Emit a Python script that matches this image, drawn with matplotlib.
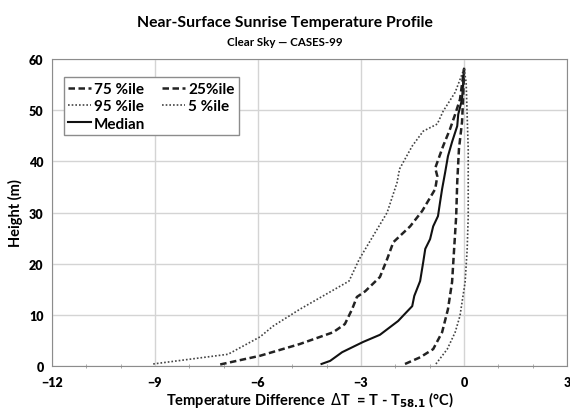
import numpy as np
import matplotlib.pyplot as plt
from matplotlib.ticker import MultipleLocator

plt.rcParams["font.family"] = ["Lato", "DejaVu Sans"]

# Profiles: temperature difference (degC) vs height (m)
h_p95 = [0.4, 2.3, 5.7, 7.8, 11.1, 16.6, 20.9, 25.4, 30.0, 35.9, 38.5, 43.0, 45.9, 47.3, 49.8, 53.5, 58.1]
t_p95 = [-9.05, -6.87, -5.94, -5.56, -4.78, -3.35, -3.05, -2.65, -2.24, -1.95, -1.88, -1.51, -1.19, -0.78, -0.61, -0.26, 0.0]

h_p75 = [0.3, 2.0, 4.3, 6.6, 8.2, 11.1, 13.5, 14.6, 17.4, 20.9, 24.2, 27.3, 30.3, 34.6, 37.1, 38.7, 40.2, 43.0, 46.3, 49.2, 52.1, 58.1]
t_p75 = [-7.1, -5.94, -4.78, -3.81, -3.47, -3.26, -3.12, -2.88, -2.45, -2.24, -2.06, -1.57, -1.22, -0.84, -0.78, -0.84, -0.76, -0.61, -0.41, -0.26, -0.12, 0.0]

h_med = [0.4, 1.0, 2.7, 4.7, 6.1, 8.8, 9.8, 11.7, 13.7, 16.6, 20.3, 22.9, 24.8, 27.3, 29.3, 32.0, 34.6, 37.9, 41.0, 43.8, 46.9, 49.2, 52.1, 58.1]
t_med = [-4.15, -3.9, -3.55, -2.94, -2.45, -1.92, -1.78, -1.51, -1.45, -1.28, -1.19, -1.13, -0.99, -0.9, -0.76, -0.7, -0.64, -0.55, -0.47, -0.35, -0.2, -0.17, -0.06, 0.0]

h_p25 = [0.4, 1.7, 3.3, 6.6, 11.1, 16.4, 22.9, 29.3, 35.9, 42.4, 47.7, 52.1, 58.1]
t_p25 = [-1.72, -1.28, -0.9, -0.64, -0.47, -0.35, -0.29, -0.23, -0.2, -0.15, -0.06, -0.03, 0.0]

h_p05 = [0.4, 3.3, 6.6, 9.8, 16.4, 22.9, 29.3, 35.9, 42.4, 48.8, 55.4, 58.1]
t_p05 = [-0.82, -0.49, -0.26, -0.12, 0.03, 0.09, 0.12, 0.12, 0.12, 0.09, 0.06, 0.0]

fig = plt.figure(figsize=(5.7, 4.14), dpi=100)
ax = fig.add_axes([0.091, 0.1135, 0.904, 0.7415])

ax.plot(t_p75, h_p75, color="#222222", lw=1.8, ls=(0, (2.6, 1.4)), label="75 %ile")
ax.plot(t_p95, h_p95, color="#444444", lw=1.2, ls=(0, (1, 1.2)), label="95 %ile")
ax.plot(t_med, h_med, color="#111111", lw=1.5, ls="-", label="Median")
ax.plot(t_p25, h_p25, color="#222222", lw=1.8, ls=(0, (2.6, 1.4)), label="25%ile")
ax.plot(t_p05, h_p05, color="#444444", lw=1.2, ls=(0, (1, 1.2)), label="5 %ile")

ax.set_xlim(-12, 3)
ax.set_ylim(0, 60)
ax.xaxis.set_major_locator(MultipleLocator(3))
ax.xaxis.set_minor_locator(MultipleLocator(1))
ax.yaxis.set_major_locator(MultipleLocator(10))
ax.grid(True, which="major", color="#d4d4d4", lw=1.0)
ax.set_axisbelow(True)
ax.tick_params(axis="both", which="major", length=0, labelsize=9, pad=6)
ax.tick_params(axis="x", which="major", pad=7)
ax.tick_params(axis="x", which="minor", length=3, direction="inout", color="#999999")
for lab in ax.get_xticklabels() + ax.get_yticklabels():
    lab.set_fontweight("heavy")
for sp in ax.spines.values():
    sp.set_color("#8c8c8c")

ax.set_xlabel(r"Temperature Difference  $\Delta$T  = T - T$_{\mathbf{58.1}}$ (°C)",
              fontsize=10.5, fontweight="bold", labelpad=1)
ax.set_ylabel("Height (m)", fontsize=10.5, fontweight="bold", labelpad=4)

fig.text(0.5, 0.945, "Near-Surface Sunrise Temperature Profile",
         ha="center", va="center", fontsize=11.3, fontweight="bold")
fig.text(0.5, 0.897, "Clear Sky — CASES-99",
         ha="center", va="center", fontsize=8.3, fontweight="bold")

leg = ax.legend(loc="upper left", bbox_to_anchor=(0.008, 0.965), ncol=2,
                handlelength=1.5, handletextpad=0.2, columnspacing=1.1,
                labelspacing=0.22, fancybox=False, framealpha=1,
                prop={"weight": "bold", "size": 11}, borderpad=0.3)
leg.get_frame().set_edgecolor("#8c8c8c")

fig.savefig("out.png", dpi=100)
